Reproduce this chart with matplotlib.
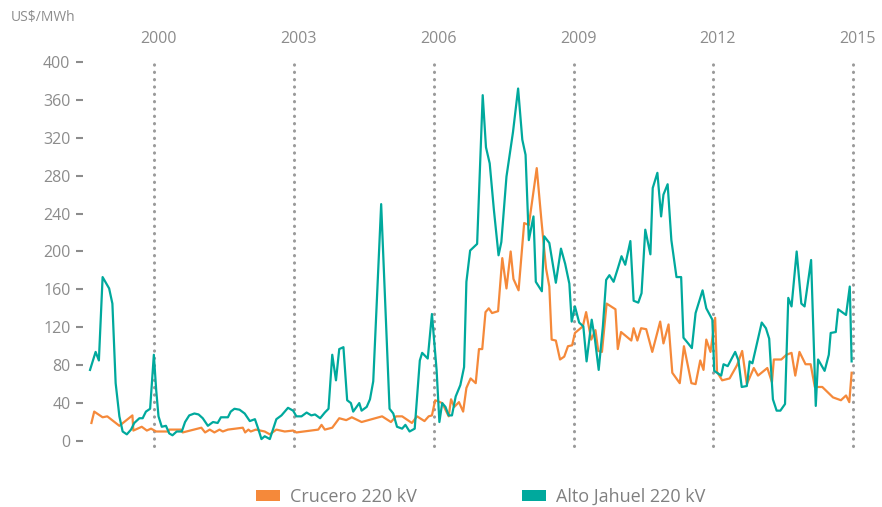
import matplotlib
matplotlib.use('Agg')
import matplotlib.pyplot as plt
import matplotlib.transforms as mtransforms
from matplotlib.patches import Patch

plt.rcParams['font.family'] = ['Open Sans', 'DejaVu Sans']

# ----------------------------------------------------------------------------
# data (decimal year, US$/MWh)
# ----------------------------------------------------------------------------
crucero_t = [1998.65, 1998.71, 1998.89, 1998.99, 1999.25, 1999.53, 1999.55, 1999.73, 1999.84, 1999.93,
             2000.04, 2000.30, 2000.32, 2000.57, 2000.61, 2001.01, 2001.09, 2001.19, 2001.29, 2001.40,
             2001.47, 2001.58, 2001.90, 2001.95, 2002.02, 2002.07, 2002.18, 2002.37, 2002.48, 2002.62,
             2002.80, 2002.98, 2003.05, 2003.52, 2003.59, 2003.66, 2003.74, 2003.82, 2003.97, 2004.12,
             2004.24, 2004.45, 2004.89, 2005.08, 2005.19, 2005.32, 2005.53, 2005.64, 2005.80, 2005.89,
             2005.96, 2006.03, 2006.18, 2006.32, 2006.37, 2006.44, 2006.54, 2006.63, 2006.70, 2006.79,
             2006.90, 2006.97, 2007.04, 2007.11, 2007.18, 2007.25, 2007.38, 2007.47, 2007.56, 2007.65,
             2007.71, 2007.82, 2007.94, 2008.04, 2008.21, 2008.31, 2008.41, 2008.48, 2008.53, 2008.62,
             2008.71, 2008.80, 2008.88, 2008.97, 2009.03, 2009.20, 2009.27, 2009.38, 2009.47, 2009.53,
             2009.61, 2009.71, 2009.90, 2009.95, 2010.02, 2010.24, 2010.29, 2010.37, 2010.45, 2010.56,
             2010.69, 2010.86, 2010.93, 2011.04, 2011.12, 2011.28, 2011.37, 2011.53, 2011.62, 2011.72,
             2011.79, 2011.85, 2011.94, 2012.04, 2012.08, 2012.19, 2012.35, 2012.51, 2012.62, 2012.72,
             2012.87, 2012.96, 2013.16, 2013.26, 2013.30, 2013.46, 2013.57, 2013.68, 2013.76, 2013.85,
             2013.98, 2014.09, 2014.18, 2014.34, 2014.57, 2014.74, 2014.85, 2014.92, 2014.97]
crucero_v = [19, 31, 25, 26, 16, 27, 11, 15, 11, 13,
             10, 10, 12, 12, 9, 14, 9, 12, 9, 12,
             10, 12, 14, 9, 12, 10, 12, 10, 7, 12,
             10, 11, 9, 12, 17, 12, 13, 14, 24, 22,
             25, 20, 26, 20, 26, 26, 19, 26, 21, 26,
             27, 43, 40, 26, 44, 36, 41, 31, 56, 66,
             61, 97, 97, 136, 140, 135, 137, 193, 161, 200,
             171, 159, 230, 228, 288, 233, 182, 163, 107, 106,
             86, 89, 100, 101, 114, 121, 136, 107, 117, 95,
             94, 145, 139, 97, 115, 106, 119, 106, 119, 118,
             94, 126, 103, 123, 72, 61, 100, 61, 60, 85,
             75, 107, 94, 130, 73, 64, 66, 80, 95, 60,
             77, 69, 77, 62, 86, 86, 91, 93, 69, 94,
             81, 81, 57, 57, 46, 43, 48, 41, 72]

jahuel_t = [1998.62, 1998.74, 1998.81, 1998.89, 1999.03, 1999.10, 1999.17, 1999.25, 1999.32, 1999.41,
            1999.50, 1999.57, 1999.68, 1999.75, 1999.82, 1999.91, 1999.99, 2000.04, 2000.09, 2000.16,
            2000.25, 2000.32, 2000.39, 2000.48, 2000.59, 2000.66, 2000.75, 2000.86, 2000.95, 2001.04,
            2001.15, 2001.26, 2001.36, 2001.43, 2001.58, 2001.64, 2001.72, 2001.83, 2001.94, 2002.05,
            2002.16, 2002.23, 2002.30, 2002.37, 2002.48, 2002.62, 2002.73, 2002.87, 2002.98, 2003.05,
            2003.16, 2003.27, 2003.37, 2003.45, 2003.56, 2003.66, 2003.74, 2003.82, 2003.90, 2003.97,
            2004.06, 2004.14, 2004.22, 2004.27, 2004.40, 2004.45, 2004.56, 2004.63, 2004.70, 2004.87,
            2005.05, 2005.13, 2005.21, 2005.32, 2005.39, 2005.48, 2005.59, 2005.70, 2005.75, 2005.87,
            2005.96, 2006.06, 2006.12, 2006.18, 2006.25, 2006.32, 2006.39, 2006.47, 2006.57, 2006.65,
            2006.70, 2006.78, 2006.93, 2007.05, 2007.12, 2007.20, 2007.29, 2007.39, 2007.45, 2007.56,
            2007.70, 2007.81, 2007.90, 2007.97, 2008.04, 2008.14, 2008.19, 2008.32, 2008.37, 2008.48,
            2008.62, 2008.73, 2008.82, 2008.91, 2008.96, 2009.03, 2009.12, 2009.21, 2009.28, 2009.39,
            2009.46, 2009.54, 2009.63, 2009.70, 2009.77, 2009.86, 2009.95, 2010.03, 2010.11, 2010.22,
            2010.29, 2010.39, 2010.46, 2010.54, 2010.65, 2010.70, 2010.80, 2010.88, 2010.93, 2011.02,
            2011.10, 2011.21, 2011.31, 2011.36, 2011.46, 2011.54, 2011.62, 2011.77, 2011.85, 2011.98,
            2012.02, 2012.11, 2012.17, 2012.22, 2012.31, 2012.47, 2012.54, 2012.61, 2012.72, 2012.78,
            2012.84, 2013.04, 2013.13, 2013.20, 2013.28, 2013.36, 2013.44, 2013.54, 2013.61, 2013.68,
            2013.79, 2013.89, 2013.96, 2014.10, 2014.20, 2014.25, 2014.39, 2014.48, 2014.52, 2014.63,
            2014.68, 2014.85, 2014.93, 2014.97]
jahuel_v = [75, 94, 85, 173, 161, 145, 61, 26, 10, 7,
            12, 19, 24, 24, 31, 34, 91, 54, 26, 15,
            16, 8, 6, 10, 10, 20, 27, 29, 28, 24,
            16, 20, 19, 25, 25, 31, 34, 33, 29, 21,
            23, 13, 2, 5, 2, 23, 27, 35, 32, 26,
            26, 30, 27, 28, 24, 30, 34, 91, 64, 97,
            99, 43, 40, 31, 40, 32, 36, 44, 63, 250,
            34, 29, 15, 13, 17, 10, 13, 85, 93, 87,
            134, 75, 20, 40, 36, 27, 27, 47, 59, 78,
            168, 201, 208, 365, 310, 293, 244, 196, 210, 279,
            326, 372, 318, 302, 212, 237, 168, 158, 216, 209,
            167, 203, 187, 166, 126, 142, 125, 121, 84, 128,
            107, 75, 121, 170, 175, 168, 182, 195, 186, 211,
            148, 146, 156, 223, 197, 267, 283, 237, 260, 271,
            212, 173, 173, 109, 103, 98, 135, 159, 140, 128,
            74, 71, 69, 81, 79, 94, 85, 57, 58, 84,
            82, 125, 119, 108, 44, 32, 32, 39, 151, 142,
            200, 145, 142, 191, 37, 86, 74, 91, 114, 115,
            139, 133, 163, 84]

years = [2000, 2003, 2006, 2009, 2012, 2015]
y_ticks = [0, 40, 80, 120, 160, 200, 240, 280, 320, 360, 400]

ORANGE = '#F5893A'
TEAL = '#00A99D'
GREY = '#8C8C8C'

# ----------------------------------------------------------------------------
# figure
# ----------------------------------------------------------------------------
fig = plt.figure(figsize=(8.82, 5.07), dpi=100)
ax = fig.add_axes([0.0941, 0.1022, 0.8946, 0.7942])

# dotted year markers
ax.vlines(years, -5, 400, colors='#9A9A9A', linewidth=2.2,
          linestyles=(0, (0.1, 2.3)), capstyle='round', zorder=1)

ax.plot(crucero_t, crucero_v, color=ORANGE, lw=1.6, zorder=3)
ax.plot(jahuel_t, jahuel_v, color=TEAL, lw=1.6, zorder=4)

ax.set_xlim(1998.469, 2015.408)
ax.set_ylim(-15, 410)

for s in ax.spines.values():
    s.set_visible(False)

ax.set_xticks([])
ax.set_yticks(y_ticks)
ax.tick_params(axis='y', direction='out', length=5, width=1.5, color='#8C8C8C',
               labelcolor=GREY, labelsize=11.5, pad=4)

# year labels above the plot
trans = mtransforms.blended_transform_factory(ax.transData, ax.transAxes)
for yr in years:
    ax.text(yr + 0.1, 1.033, str(yr), transform=trans, ha='center', va='center',
            color=GREY, fontsize=11.5)

fig.text(0.012, 0.966, 'US$/MWh', color=GREY, fontsize=10, ha='left', va='center')

handles = [Patch(facecolor=ORANGE, edgecolor='none', label='Crucero 220 kV'),
           Patch(facecolor=TEAL, edgecolor='none', label='Alto Jahuel 220 kV')]
leg = fig.legend(handles=handles, loc='center', bbox_to_anchor=(0.545, 0.02), ncol=2,
                 frameon=False, fontsize=13, handlelength=1.33, handleheight=0.61,
                 handletextpad=0.55, columnspacing=5.8, borderpad=0)
for t in leg.get_texts():
    t.set_color('#808080')

fig.savefig('out.png', dpi=100)
